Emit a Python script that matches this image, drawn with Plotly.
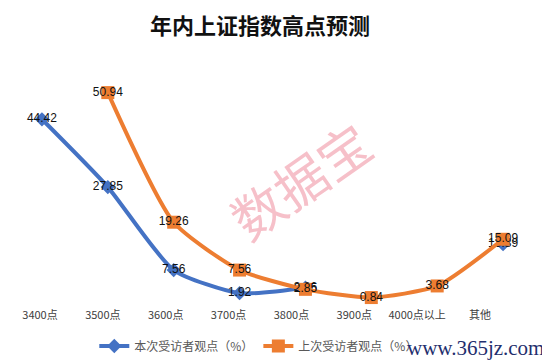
import plotly.graph_objects as go

categories = ["3400点", "3500点", "3600点", "3700点", "3800点", "3900点", "4000点以上", "其他"]
current_vals = [44.42, 27.85, 7.56, 1.92, 3.26, None, None, 13.89]
previous_vals = [None, 50.94, 19.26, 7.56, 2.85, 0.84, 3.68, 15.09]
series_names = ["本次受访者观点（%）", "上次受访者观点（%）"]
title_text = "年内上证指数高点预测"

BLUE = "#4472C4"
ORANGE = "#ED7D31"

fig = go.Figure()
fig.add_trace(go.Scatter(
    x=categories, y=current_vals, name=series_names[0],
    mode="lines+markers+text",
    line=dict(color=BLUE, width=4, shape="spline", smoothing=0.6),
    marker=dict(symbol="diamond", size=11, color=BLUE),
    texttemplate="%{y:.2f}", textposition="middle center",
    textfont=dict(family="Liberation Sans", size=12, color="#111111"),
    connectgaps=False, cliponaxis=False,
))
fig.add_trace(go.Scatter(
    x=categories, y=previous_vals, name=series_names[1],
    mode="lines+markers+text",
    line=dict(color=ORANGE, width=4, shape="spline", smoothing=0.6),
    marker=dict(symbol="square", size=13, color=ORANGE),
    texttemplate="%{y:.2f}", textposition="middle center",
    textfont=dict(family="Liberation Sans", size=12, color="#111111"),
    connectgaps=False, cliponaxis=False,
))
# empty helper trace so the label axis is drawn
fig.add_trace(go.Scatter(
    x=categories, y=[None] * len(categories), xaxis="x2", yaxis="y",
    mode="markers", showlegend=False, hoverinfo="skip",
))

fig.update_layout(
    width=542, height=355,
    margin=dict(l=1, r=14, t=68, b=62),
    paper_bgcolor="white", plot_bgcolor="white",
    xaxis=dict(type="category", categoryarray=categories, range=[-0.5, 7.5],
               showticklabels=False, showgrid=False, zeroline=False, showline=False, ticks=""),
    xaxis2=dict(overlaying="x", anchor="y", side="bottom", type="category",
                categoryarray=categories, range=[-0.493, 7.891],
                showgrid=False, zeroline=False, showline=False, ticks="",
                ticklabelstandoff=6,
                tickfont=dict(family="Noto Sans CJK SC", size=11, color="#404040")),
    yaxis=dict(range=[0, 55], visible=False),
    showlegend=True,
    legend=dict(orientation="h", x=0.474, y=-0.2, xanchor="center", yanchor="middle",
                font=dict(family="Noto Sans CJK SC", size=12, color="#595959"),
                itemwidth=30, bgcolor="rgba(0,0,0,0)"),
    annotations=[
        dict(text="<b>" + title_text + "</b>", x=0.476, y=1.232, xref="paper", yref="paper",
             xanchor="center", yanchor="middle", showarrow=False, height=26, valign="middle",
             font=dict(family="Noto Sans CJK SC", size=22, color="#111111")),
        dict(text="数据宝", x=0.552, y=0.538, xref="paper", yref="paper",
             showarrow=False, textangle=-35,
             font=dict(family="Noto Sans CJK SC", size=52, color="rgba(240,150,165,0.6)")),
        dict(text="www.365jz.com", x=0.886, y=-0.208, xref="paper", yref="paper",
             xanchor="center", yanchor="middle", showarrow=False,
             font=dict(family="Liberation Serif", size=21, color="#1F2F6E")),
    ],
)

fig.write_html("out.html")
